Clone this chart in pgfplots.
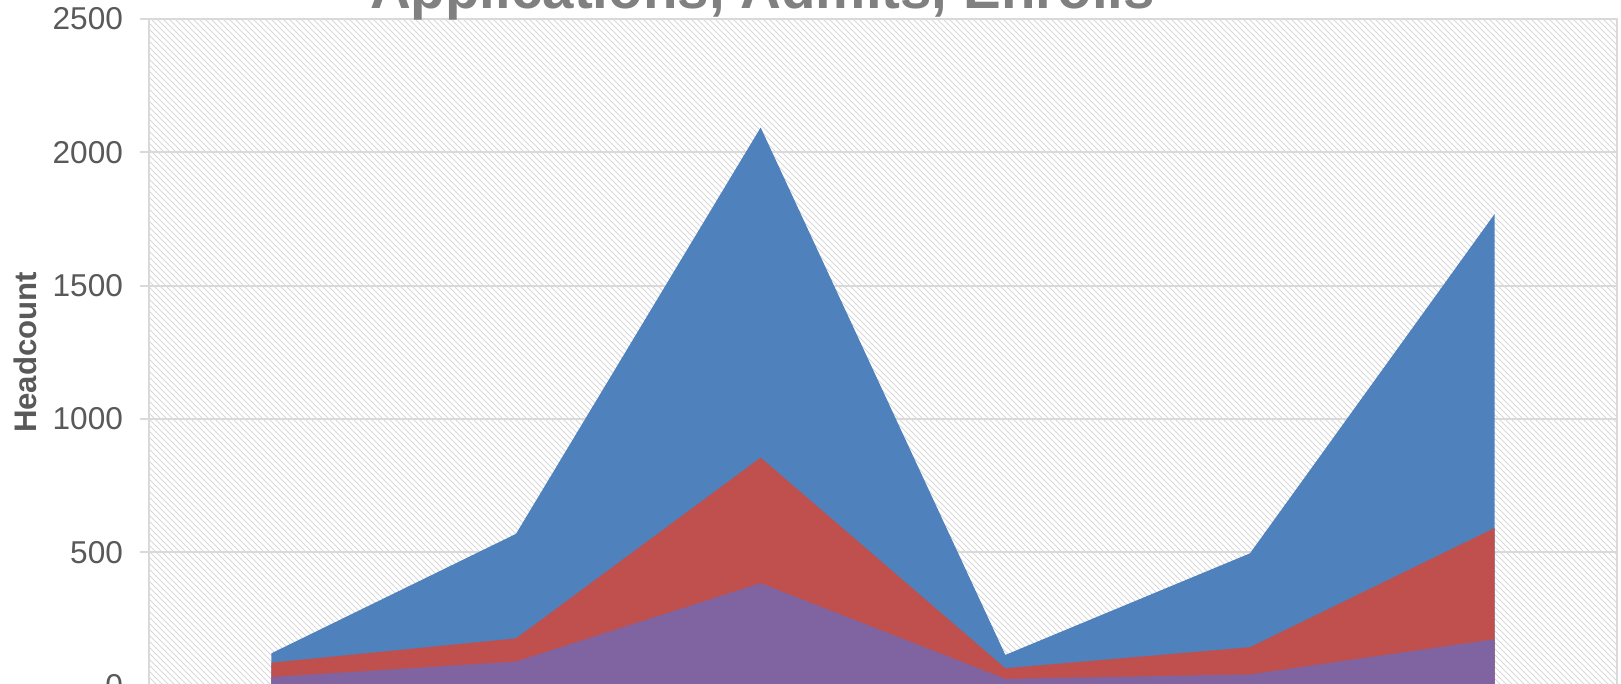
\documentclass[border=0pt]{standalone}
\usepackage{pgfplots}
\pgfplotsset{compat=1.18}
\usepackage{pgfplotstable}
\usepackage{fontspec}
\setmainfont{Liberation Sans}
\usetikzlibrary{patterns}
\definecolor{cblue}{HTML}{4F81BD}
\definecolor{cred}{HTML}{C0504D}
\definecolor{cpurple}{HTML}{8064A2}
\definecolor{gridgray}{HTML}{D9D9D9}
\definecolor{labelgray}{HTML}{595959}
\definecolor{titlegray}{HTML}{808080}
\pgfplotstableread{
x apps admits enrolls
0 121 86 32
1 569 177 90
2 2093 855 384
3 115 65 25
4 496 144 42
5 1769 591 174
}\datatable
\begin{document}
\begin{tikzpicture}
\path[use as bounding box, clip] (0pt,0pt) rectangle (810.5pt,342pt);
\begin{axis}[
  at={(74.5pt,-0.8pt)}, anchor=south west,
  scale only axis, width=734pt, height=333.3pt,
  xmin=-0.5, xmax=5.5, ymin=0, ymax=2500,
  xtick=\empty, ytick={0,500,...,2500},
  ymajorgrids, grid style={gridgray, line width=0.9pt},
  axis line style={gridgray, line width=0.9pt},
  tick align=outside, major tick length=4.5pt,
  ytick pos=left, tick style={gridgray, line width=0.9pt},
  yticklabel style={font=\fontsize{15.8}{15.8}\selectfont, color=labelgray, xshift=-5pt},
  /pgf/number format/assume math mode=true,
  /pgf/number format/1000 sep={},
  axis background/.style={pattern=north west lines, pattern color=black!15},
  ylabel={Headcount},
  ylabel style={at={(axis description cs:-0.0845,0.5)}, rotate=0, anchor=center,
    font=\bfseries\fontsize{15.6}{15.6}\selectfont, color=labelgray},
]
\addplot[fill=cblue, draw=none] table[x=x,y=apps]{\datatable} \closedcycle;
\addplot[fill=cred, draw=none] table[x=x,y=admits]{\datatable} \closedcycle;
\addplot[fill=cpurple, draw=none] table[x=x,y=enrolls]{\datatable} \closedcycle;
\end{axis}
\node[anchor=base, inner sep=0pt, font=\bfseries\fontsize{28.25}{28.25}\selectfont, text=titlegray] at (381.25pt,337.5pt) {Applications, Admits, Enrolls};
\end{tikzpicture}
\end{document}
